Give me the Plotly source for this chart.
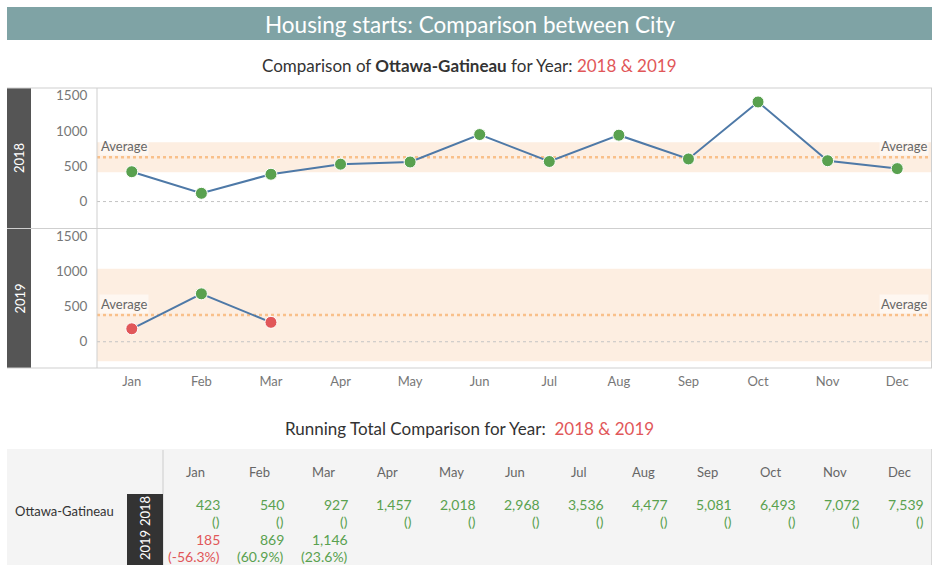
import plotly.graph_objects as go
import numpy as np

# ---------------- data ----------------
months = ["Jan", "Feb", "Mar", "Apr", "May", "Jun", "Jul", "Aug", "Sep", "Oct", "Nov", "Dec"]
city = "Ottawa-Gatineau"
years = ["2018", "2019"]
starts_2018 = [423, 117, 387, 530, 561, 950, 568, 941, 604, 1412, 579, 467]
starts_2019 = [185, 684, 277]
marker_colors_2018 = ["#59a14f"] * 12
marker_colors_2019 = ["#e15759", "#59a14f", "#e15759"]
band_2018 = [416, 840]     # shaded reference band (95% CI)
band_2019 = [-278, 1042]
y_ticks = [0, 500, 1000, 1500]

# derived values
avg_2018 = float(np.mean(starts_2018))
avg_2019 = float(np.mean(starts_2019))
rt_2018 = np.cumsum(starts_2018)
rt_2019 = np.cumsum(starts_2019)
pct_2019 = (rt_2019 / rt_2018[:len(rt_2019)] - 1) * 100

# ---------------- layout helpers ----------------
W, H = 934, 572
def px(x):
    return x / W
def py(y):
    return 1 - y / H

GREEN = "#59a14f"
RED = "#e15759"
LINE = "#4e79a7"
GRID = "#cfcfcf"
FONT = "Lato, 'Noto Sans', sans-serif"

fig = go.Figure()

fig.add_trace(go.Scatter(
    x=months, y=starts_2018, mode="lines+markers", xaxis="x", yaxis="y",
    line=dict(color=LINE, width=2),
    marker=dict(size=12, color=marker_colors_2018, line=dict(color="white", width=1)),
    showlegend=False, hoverinfo="x+y"))
fig.add_trace(go.Scatter(
    x=months[:len(starts_2019)], y=starts_2019, mode="lines+markers", xaxis="x2", yaxis="y2",
    line=dict(color=LINE, width=2),
    marker=dict(size=12, color=marker_colors_2019, line=dict(color="white", width=1)),
    showlegend=False, hoverinfo="x+y"))

yrange = [-375, 1610]
common_x = dict(domain=[px(97), px(932)], type="category", categoryorder="array",
                categoryarray=months, range=[-0.5, 11.5], showgrid=False, zeroline=False,
                showline=False, fixedrange=True)
common_y = dict(range=yrange, tickvals=y_ticks, showgrid=False, zeroline=False, showline=False,
                ticks="outside", ticklen=6, tickcolor="rgba(0,0,0,0)",
                tickfont=dict(size=13.5, color="#777777"), fixedrange=True)

fig.update_layout(
    width=W, height=H, margin=dict(l=0, r=0, t=0, b=0),
    paper_bgcolor="white", plot_bgcolor="rgba(0,0,0,0)",
    font=dict(family=FONT, color="#333333"),
    xaxis=dict(common_x, anchor="y", showticklabels=False),
    yaxis=dict(common_y, domain=[py(228), py(88)], anchor="x"),
    xaxis2=dict(common_x, anchor="y2", showticklabels=True, ticks="outside", ticklen=1,
                tickcolor="rgba(0,0,0,0)", tickfont=dict(size=13, color="#777777")),
    yaxis2=dict(common_y, domain=[py(368), py(229)], anchor="x2"),
    xaxis3=dict(domain=[px(163), px(931)], anchor="y3", type="category", categoryorder="array",
                categoryarray=months, range=[-0.5, 11.5], visible=False, fixedrange=True),
    yaxis3=dict(domain=[py(565), py(449)], anchor="x3", range=[0, 1], visible=False, fixedrange=True),
)

shapes = []
annotations = []

def ann(**kw):
    kw.setdefault("showarrow", False)
    kw.setdefault("xanchor", "center")
    kw.setdefault("yanchor", "middle")
    annotations.append(kw)

# title bar
shapes.append(dict(type="rect", xref="paper", yref="paper", x0=px(7), x1=px(932), y0=py(40), y1=py(7),
                   fillcolor="#7fa3a5", line=dict(width=0), layer="below"))
ann(xref="paper", yref="paper", x=px(469.5), y=py(24),
    text="Housing starts: Comparison between City",
    font=dict(size=22.5, color="white", family=FONT))
ann(xref="paper", yref="paper", x=px(469.5), y=py(65),
    text=f"Comparison of <b>{city}</b> for Year: <span style='color:{RED}'>{years[0]} &amp; {years[1]}</span>",
    font=dict(size=17, color="#333333", family=FONT))

# panels: bands, average lines, zero lines
for xa, ya, band, avg in (("x", "y", band_2018, avg_2018), ("x2", "y2", band_2019, avg_2019)):
    shapes.append(dict(type="rect", xref=f"{xa} domain", yref=ya, x0=0, x1=1, y0=band[0], y1=band[1],
                       fillcolor="#fdeee1", line=dict(width=0), layer="below"))
    shapes.append(dict(type="line", xref=f"{xa} domain", yref=ya, x0=0, x1=1, y0=0, y1=0,
                       line=dict(color="#c4c4c4", width=1, dash="dot"), layer="below"))
    shapes.append(dict(type="line", xref=f"{xa} domain", yref=ya, x0=0, x1=1, y0=avg, y1=avg,
                       line=dict(color="#f9c08a", width=2.5, dash="dot"), layer="below"))
    for xpos, anchor, shift in ((0, "left", 2), (1, "right", -3)):
        ann(xref=f"{xa} domain", yref=ya, x=xpos, y=avg, xanchor=anchor,
            yanchor="bottom", xshift=shift, yshift=1,
            text="Average", bgcolor="rgba(255,255,255,0.55)",
            font=dict(size=13, color="#666666", family=FONT), borderpad=1)

# year strips on chart
for (y0, y1), yr in (((88, 228), years[0]), ((229, 368), years[1])):
    shapes.append(dict(type="rect", xref="paper", yref="paper", x0=px(7), x1=px(31), y0=py(y1), y1=py(y0),
                       fillcolor="#555555", line=dict(width=0)))
    ann(xref="paper", yref="paper", x=px(19), y=py((y0 + y1) / 2),
        text=yr, textangle=-90, font=dict(size=13, color="white", family=FONT))

# chart borders
for yline in (88, 228.5, 368):
    shapes.append(dict(type="line", xref="paper", yref="paper", x0=px(7), x1=px(932), y0=py(yline), y1=py(yline),
                       line=dict(color=GRID, width=1)))
for xline in (97, 931.5):
    shapes.append(dict(type="line", xref="paper", yref="paper", x0=px(xline), x1=px(xline), y0=py(368), y1=py(88),
                       line=dict(color=GRID, width=1)))

# ---------------- table ----------------
ann(xref="paper", yref="paper", x=px(469.5), y=py(428),
    text=f"Running Total Comparison for Year:  <span style='color:{RED}'>{years[0]} &amp; {years[1]}</span>",
    font=dict(size=17, color="#333333", family=FONT))
shapes.append(dict(type="rect", xref="paper", yref="paper", x0=px(7), x1=px(931), y0=py(565), y1=py(449),
                   fillcolor="#f4f4f4", line=dict(width=0), layer="below"))
shapes.append(dict(type="line", xref="paper", yref="paper", x0=px(163), x1=px(163), y0=py(565), y1=py(450),
                   line=dict(color="#cccccc", width=1)))
shapes.append(dict(type="line", xref="paper", yref="paper", x0=px(931.5), x1=px(931.5), y0=py(565), y1=py(449),
                   line=dict(color="#d8d8d8", width=1)))
shapes.append(dict(type="rect", xref="paper", yref="paper", x0=px(127), x1=px(163), y0=py(565), y1=py(494),
                   fillcolor="#333333", line=dict(width=0)))
ann(xref="paper", yref="paper", x=px(145), y=py(511), text=years[0],
    textangle=-90, font=dict(size=13, color="white", family=FONT))
ann(xref="paper", yref="paper", x=px(145), y=py(545), text=years[1],
    textangle=-90, font=dict(size=13, color="white", family=FONT))
ann(xref="paper", yref="paper", x=px(13), y=py(511), xanchor="left",
    text=city, font=dict(size=13, color="#333333", family=FONT))

for i, m in enumerate(months):
    ann(xref="x3", yref="paper", x=m, y=py(472), text=m,
        font=dict(size=13, color="#666666", family=FONT))
    ann(xref="x3", yref="paper", x=m, y=py(504), xanchor="right", xshift=27,
        text=f"{rt_2018[i]:,}", font=dict(size=14, color=GREEN, family=FONT))
    ann(xref="x3", yref="paper", x=m, y=py(521), xanchor="right", xshift=27,
        text="()", font=dict(size=14, color=GREEN, family=FONT))
for i in range(len(rt_2019)):
    m = months[i]
    col = GREEN if pct_2019[i] >= 0 else RED
    ann(xref="x3", yref="paper", x=m, y=py(539), xanchor="right", xshift=27,
        text=f"{rt_2019[i]:,}", font=dict(size=14, color=col, family=FONT))
    ann(xref="x3", yref="paper", x=m, y=py(556), xanchor="right", xshift=27,
        text=f"({pct_2019[i]:.1f}%)", font=dict(size=14, color=col, family=FONT))

fig.update_layout(shapes=shapes, annotations=annotations)

fig.write_html("out.html", config={"displayModeBar": False},
               post_script="document.body.style.margin='0';document.body.style.overflow='hidden';")
